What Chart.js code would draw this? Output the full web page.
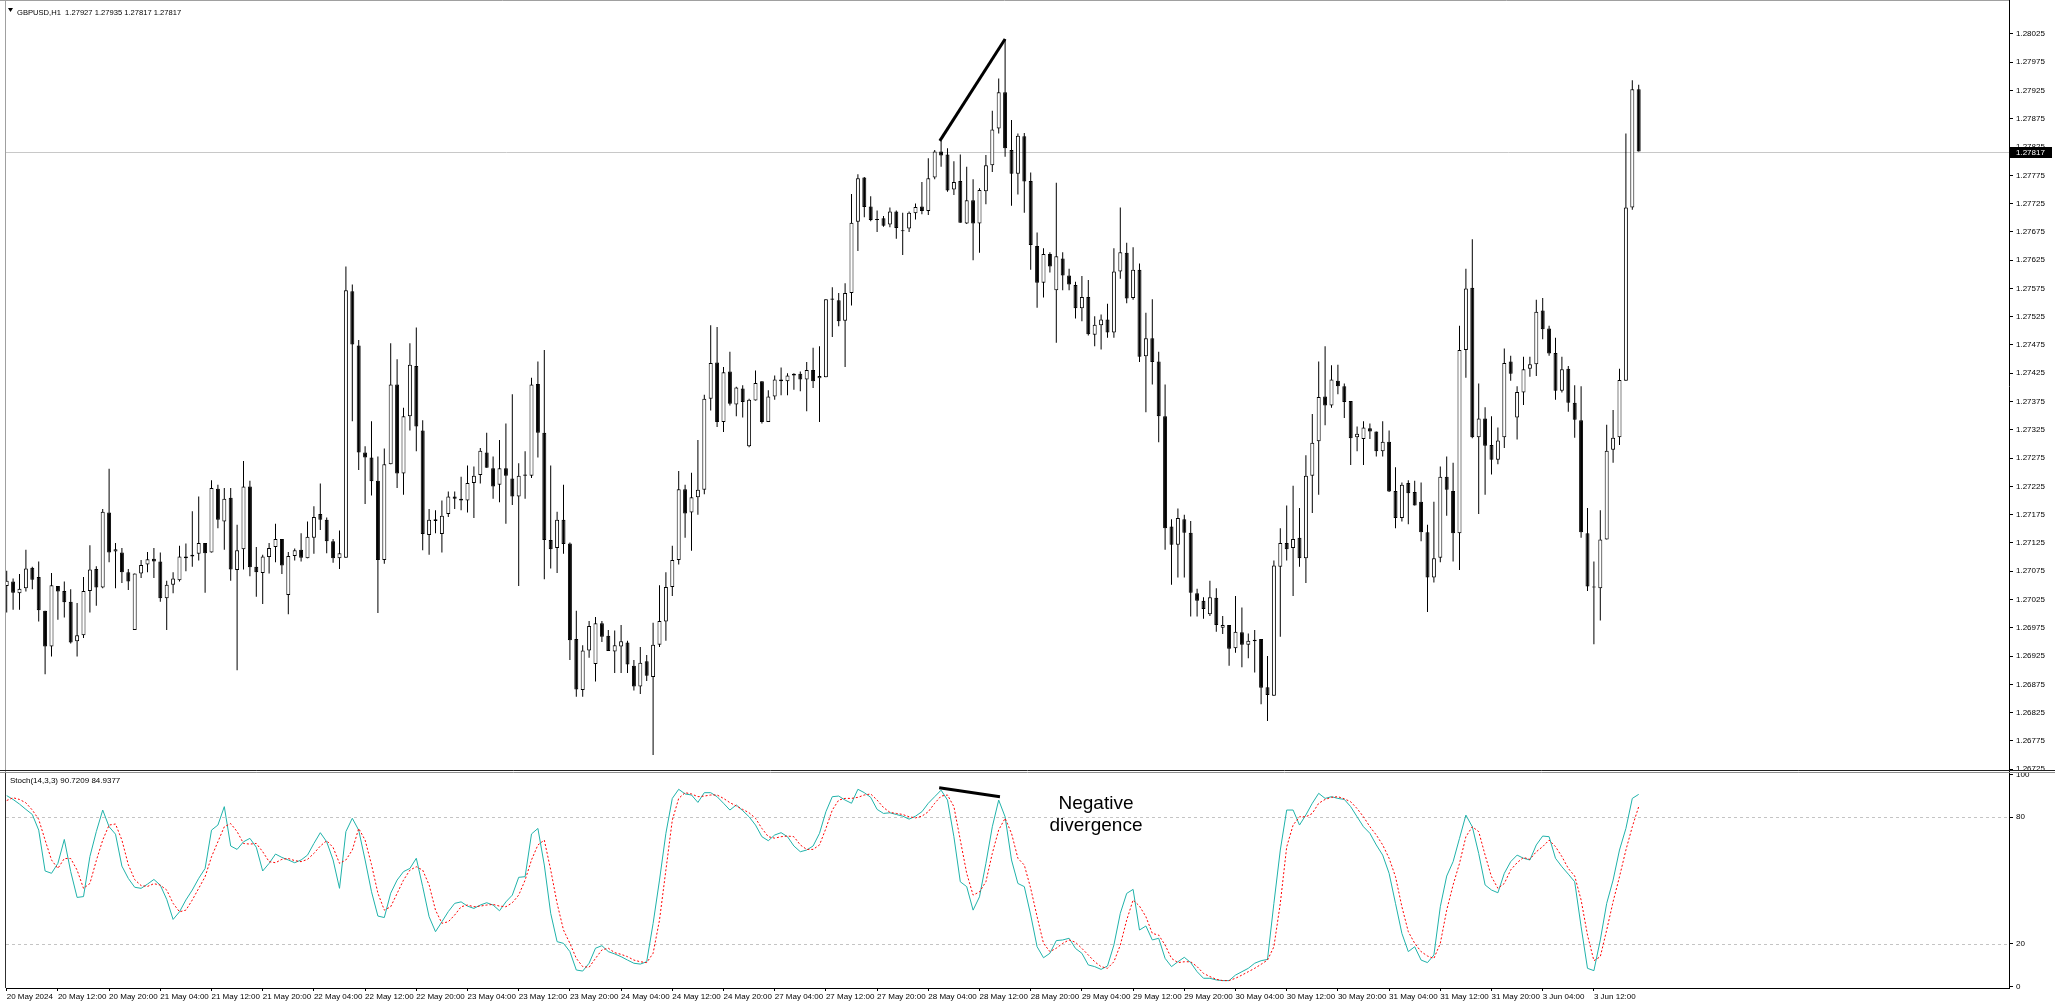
<!DOCTYPE html>
<html>
<head>
<meta charset="utf-8">
<script src="https://cdn.jsdelivr.net/npm/chart.js@4.4.1/dist/chart.umd.min.js"></script>
<style>
  html, body { margin: 0; padding: 0; background: #fff; }
  #wrap { position: relative; width: 2055px; height: 1002px; overflow: hidden; background: #fff; }
  #main { position: absolute; left: 0; top: 0; }
  #stoch { position: absolute; left: 0; top: 762px; }
</style>
</head>
<body>
<div id="wrap">
  <canvas id="main" width="2055" height="772"></canvas>
  <canvas id="stoch" width="2055" height="240"></canvas>
</div>
<script>
// GBPUSD H1, 20 May 04:00 .. 3 Jun 19:00 (256 bars)
const symbol = "GBPUSD,H1";
const stochTitle = "Stoch(14,3,3) 90.7209 84.9377";

const opens = [
  1.27049,1.27057,1.27036,1.27045,1.27081,1.27065,1.27005,1.26942,1.27049,1.27040,
  1.27021,1.26951,1.26962,1.27040,1.27079,1.27046,1.27179,1.27110,1.27108,1.27073,
  1.26971,1.27071,1.27087,1.27097,1.27092,1.27027,1.27051,1.27059,1.27101,1.27101,
  1.27106,1.27125,1.27108,1.27221,1.27163,1.27205,1.27077,1.27114,1.27225,1.27083,
  1.27072,1.27100,1.27118,1.27132,1.27033,1.27102,1.27113,1.27098,1.27134,1.27176,
  1.27166,1.27128,1.27098,1.27099,1.27570,1.27474,1.27285,1.27276,1.27235,1.27095,
  1.27264,1.27405,1.27248,1.27349,1.27438,1.27324,1.27139,1.27167,1.27141,1.27176,
  1.27207,1.27203,1.27200,1.27231,1.27245,1.27285,1.27257,1.27228,1.27257,1.27239,
  1.27207,1.27246,1.27244,1.27406,1.27320,1.27130,1.27116,1.27166,1.27124,1.26955,
  1.26865,1.26935,1.26911,1.26983,1.26961,1.26933,1.26942,1.26949,1.26908,1.26871,
  1.26916,1.26888,1.26945,1.26986,1.27047,1.27095,1.27220,1.27179,1.27206,1.27219,
  1.27380,1.27444,1.27339,1.27428,1.27370,1.27398,1.27296,1.27377,1.27411,1.27339,
  1.27384,1.27414,1.27411,1.27421,1.27424,1.27414,1.27431,1.27416,1.27418,1.27555,
  1.27554,1.27518,1.27567,1.27693,1.27771,1.27720,1.27697,1.27699,1.27688,1.27711,
  1.27678,1.27681,1.27708,1.27720,1.27712,1.27771,1.27817,1.27812,1.27750,1.27765,
  1.27690,1.27731,1.27690,1.27747,1.27793,1.27858,1.27922,1.27820,1.27778,1.27844,
  1.27765,1.27650,1.27585,1.27636,1.27572,1.27628,1.27598,1.27581,1.27540,1.27560,
  1.27493,1.27510,1.27520,1.27497,1.27605,1.27638,1.27558,1.27608,1.27455,1.27487,
  1.27446,1.27349,1.27154,1.27122,1.27167,1.27143,1.27036,1.27023,1.26999,1.27028,
  1.26975,1.26980,1.26939,1.26967,1.26945,1.26954,1.26955,1.26870,1.26855,1.27083,
  1.27125,1.27116,1.27134,1.27098,1.27244,1.27305,1.27384,1.27368,1.27412,1.27402,
  1.27376,1.27312,1.27309,1.27328,1.27322,1.27287,1.27304,1.27217,1.27169,1.27231,
  1.27215,1.27198,1.27144,1.27064,1.27099,1.27242,1.27217,1.27142,1.27466,1.27576,
  1.27312,1.27345,1.27298,1.27272,1.27312,1.27446,1.27347,1.27391,1.27433,1.27441,
  1.27536,1.27504,1.27461,1.27394,1.27433,1.27373,1.27342,1.27142,1.27048,1.27045,
  1.27131,1.27290,1.27312,1.27412,1.27718,1.27927
];
const highs = [
  1.27076,1.27062,1.27070,1.27113,1.27083,1.27092,1.27005,1.27072,1.27049,1.27057,
  1.27043,1.27019,1.27065,1.27121,1.27084,1.27185,1.27256,1.27125,1.27116,1.27079,
  1.27071,1.27095,1.27109,1.27116,1.27108,1.27058,1.27073,1.27120,1.27124,1.27181,
  1.27207,1.27125,1.27236,1.27228,1.27222,1.27222,1.27157,1.27270,1.27235,1.27118,
  1.27104,1.27125,1.27159,1.27132,1.27109,1.27115,1.27142,1.27163,1.27190,1.27230,
  1.27170,1.27132,1.27147,1.27614,1.27582,1.27484,1.27296,1.27340,1.27278,1.27292,
  1.27478,1.27450,1.27364,1.27478,1.27506,1.27342,1.27185,1.27183,1.27200,1.27216,
  1.27216,1.27242,1.27262,1.27260,1.27293,1.27320,1.27278,1.27307,1.27336,1.27388,
  1.27266,1.27287,1.27417,1.27446,1.27466,1.27262,1.27180,1.27228,1.27126,1.27005,
  1.26944,1.26987,1.26994,1.26987,1.26971,1.26970,1.26980,1.26952,1.26918,1.26941,
  1.26927,1.26984,1.27050,1.27073,1.27120,1.27252,1.27228,1.27249,1.27307,1.27387,
  1.27510,1.27507,1.27436,1.27463,1.27401,1.27404,1.27380,1.27430,1.27411,1.27395,
  1.27421,1.27435,1.27425,1.27425,1.27428,1.27445,1.27470,1.27473,1.27556,1.27577,
  1.27567,1.27584,1.27742,1.27777,1.27772,1.27738,1.27713,1.27703,1.27718,1.27713,
  1.27709,1.27711,1.27725,1.27763,1.27805,1.27820,1.27836,1.27823,1.27800,1.27812,
  1.27790,1.27768,1.27752,1.27811,1.27889,1.27946,1.28016,1.27873,1.27849,1.27850,
  1.27780,1.27674,1.27646,1.27639,1.27762,1.27639,1.27610,1.27587,1.27597,1.27590,
  1.27526,1.27529,1.27548,1.27646,1.27718,1.27656,1.27648,1.27619,1.27532,1.27556,
  1.27463,1.27405,1.27167,1.27186,1.27175,1.27164,1.27044,1.27029,1.27058,1.27045,
  1.26996,1.26980,1.27031,1.27011,1.26965,1.26971,1.26955,1.26925,1.27094,1.27151,
  1.27191,1.27226,1.27187,1.27280,1.27353,1.27446,1.27473,1.27439,1.27440,1.27407,
  1.27376,1.27331,1.27340,1.27336,1.27322,1.27340,1.27324,1.27259,1.27232,1.27236,
  1.27235,1.27232,1.27157,1.27198,1.27260,1.27278,1.27267,1.27509,1.27610,1.27662,
  1.27407,1.27365,1.27349,1.27329,1.27469,1.27456,1.27402,1.27454,1.27454,1.27555,
  1.27558,1.27509,1.27488,1.27454,1.27438,1.27404,1.27402,1.27187,1.27092,1.27183,
  1.27334,1.27360,1.27433,1.27849,1.27943,1.27935
];
const lows = [
  1.27002,1.27007,1.27007,1.27039,1.27043,1.26986,1.26893,1.26924,1.26989,1.26993,
  1.26947,1.26924,1.26957,1.27002,1.27014,1.27045,1.27091,1.27045,1.27054,1.27042,
  1.26971,1.27063,1.27073,1.27063,1.27021,1.26971,1.27036,1.27057,1.27075,1.27083,
  1.27094,1.27037,1.27108,1.27151,1.27113,1.27058,1.26900,1.27078,1.27066,1.27030,
  1.27017,1.27071,1.27091,1.27070,1.26999,1.27094,1.27092,1.27098,1.27106,1.27148,
  1.27107,1.27090,1.27079,1.27099,1.27340,1.27254,1.27194,1.27209,1.27001,1.27088,
  1.27264,1.27222,1.27210,1.27324,1.27287,1.27112,1.27104,1.27142,1.27108,1.27171,
  1.27185,1.27183,1.27179,1.27169,1.27230,1.27258,1.27203,1.27197,1.27159,1.27192,
  1.27049,1.27203,1.27240,1.27276,1.27061,1.27080,1.27072,1.27106,1.26918,1.26853,
  1.26853,1.26922,1.26880,1.26950,1.26934,1.26895,1.26895,1.26895,1.26864,1.26858,
  1.26881,1.26750,1.26941,1.26952,1.27031,1.27087,1.27134,1.27111,1.27175,1.27211,
  1.27359,1.27330,1.27321,1.27368,1.27349,1.27347,1.27294,1.27377,1.27336,1.27339,
  1.27378,1.27386,1.27386,1.27396,1.27393,1.27358,1.27399,1.27339,1.27418,1.27489,
  1.27508,1.27436,1.27545,1.27641,1.27701,1.27694,1.27675,1.27684,1.27683,1.27663,
  1.27634,1.27675,1.27697,1.27706,1.27705,1.27768,1.27790,1.27746,1.27740,1.27691,
  1.27689,1.27625,1.27638,1.27724,1.27781,1.27849,1.27808,1.27721,1.27741,1.27709,
  1.27608,1.27541,1.27559,1.27603,1.27479,1.27572,1.27572,1.27522,1.27517,1.27492,
  1.27473,1.27467,1.27488,1.27488,1.27592,1.27549,1.27555,1.27445,1.27356,1.27405,
  1.27303,1.27113,1.27051,1.27064,1.27064,1.26995,1.26995,1.26991,1.26996,1.26968,
  1.26964,1.26908,1.26931,1.26905,1.26921,1.26896,1.26840,1.26810,1.26855,1.26959,
  1.27094,1.27031,1.27083,1.27054,1.27178,1.27210,1.27333,1.27364,1.27388,1.27346,
  1.27263,1.27287,1.27263,1.27309,1.27278,1.27278,1.27215,1.27151,1.27163,1.27158,
  1.27191,1.27128,1.27003,1.27055,1.27091,1.27173,1.27092,1.27077,1.27417,1.27310,
  1.27176,1.27210,1.27246,1.27264,1.27293,1.27412,1.27308,1.27369,1.27419,1.27420,
  1.27485,1.27456,1.27378,1.27391,1.27357,1.27311,1.27134,1.27040,1.26946,1.26988,
  1.27131,1.27267,1.27298,1.27412,1.27714,1.27817
];
const closes = [
  1.27058,1.27037,1.27044,1.27080,1.27060,1.27006,1.26942,1.27050,1.27039,1.27020,
  1.26949,1.26962,1.27040,1.27078,1.27046,1.27180,1.27108,1.27114,1.27073,1.27057,
  1.27071,1.27086,1.27096,1.27092,1.27027,1.27051,1.27062,1.27101,1.27098,1.27104,
  1.27125,1.27107,1.27222,1.27166,1.27203,1.27078,1.27112,1.27225,1.27082,1.27073,
  1.27101,1.27116,1.27132,1.27085,1.27102,1.27112,1.27099,1.27136,1.27171,1.27166,
  1.27128,1.27098,1.27107,1.27572,1.27476,1.27285,1.27276,1.27234,1.27095,1.27264,
  1.27405,1.27248,1.27349,1.27440,1.27331,1.27141,1.27166,1.27164,1.27173,1.27207,
  1.27203,1.27200,1.27231,1.27244,1.27288,1.27258,1.27225,1.27257,1.27244,1.27207,
  1.27244,1.27244,1.27405,1.27320,1.27130,1.27114,1.27166,1.27123,1.26953,1.26866,
  1.26935,1.26978,1.26983,1.26959,1.26934,1.26944,1.26951,1.26910,1.26871,1.26913,
  1.26890,1.26945,1.26987,1.27047,1.27095,1.27220,1.27177,1.27206,1.27219,1.27380,
  1.27443,1.27339,1.27427,1.27371,1.27400,1.27374,1.27378,1.27408,1.27339,1.27384,
  1.27414,1.27411,1.27421,1.27424,1.27414,1.27431,1.27411,1.27420,1.27556,1.27557,
  1.27517,1.27567,1.27691,1.27770,1.27719,1.27696,1.27696,1.27686,1.27711,1.27682,
  1.27676,1.27709,1.27719,1.27712,1.27770,1.27817,1.27810,1.27748,1.27763,1.27691,
  1.27731,1.27690,1.27749,1.27793,1.27856,1.27922,1.27823,1.27778,1.27845,1.27764,
  1.27652,1.27585,1.27636,1.27614,1.27632,1.27598,1.27582,1.27540,1.27560,1.27494,
  1.27511,1.27520,1.27497,1.27605,1.27639,1.27557,1.27608,1.27454,1.27487,1.27445,
  1.27349,1.27151,1.27122,1.27169,1.27143,1.27037,1.27023,1.27008,1.27029,1.26980,
  1.26980,1.26938,1.26968,1.26945,1.26952,1.26951,1.26869,1.26856,1.27085,1.27125,
  1.27114,1.27132,1.27098,1.27244,1.27302,1.27383,1.27368,1.27414,1.27402,1.27374,
  1.27310,1.27318,1.27329,1.27322,1.27287,1.27304,1.27216,1.27169,1.27228,1.27213,
  1.27191,1.27144,1.27064,1.27098,1.27242,1.27219,1.27142,1.27466,1.27575,1.27312,
  1.27345,1.27297,1.27272,1.27306,1.27443,1.27424,1.27392,1.27432,1.27441,1.27534,
  1.27503,1.27460,1.27394,1.27432,1.27373,1.27343,1.27144,1.27048,1.27046,1.27131,
  1.27288,1.27311,1.27413,1.27718,1.27927,1.27817
];

const stochK = [
  90.1,88.3,86.1,83.6,81.2,73.8,54.5,53.4,58.1,69.4,
  54.2,42.0,42.4,61.3,73.1,83.3,75.4,71.9,56.8,51.0,
  46.8,46.3,48.3,50.5,47.8,41.1,31.6,35.2,40.8,45.5,
  51.0,55.7,73.8,76.2,84.9,66.3,64.7,68.3,69.9,65.7,
  54.5,58.1,62.5,60.9,59.7,58.4,59.7,62.0,67.5,72.6,
  68.3,59.7,46.3,73.1,79.4,73.8,59.7,44.7,33.2,32.5,
  44.0,50.2,54.2,55.7,60.5,47.1,32.9,25.8,30.5,35.3,
  39.2,39.9,37.9,36.8,38.4,39.5,38.4,35.7,39.9,43.1,
  51.5,51.8,72.0,74.6,57.3,34.5,21.1,20.3,16.4,7.7,
  7.2,10.9,18.0,19.2,16.4,15.3,14.0,12.4,10.9,10.5,
  11.6,29.7,50.2,72.3,88.8,93.1,90.9,90.4,86.9,91.5,
  91.5,89.6,86.5,83.3,85.7,83.0,80.1,76.2,70.7,68.8,
  71.5,72.6,70.7,66.3,63.6,64.4,66.3,72.3,82.5,89.6,
  89.9,88.0,86.5,93.1,91.5,89.3,83.6,81.7,82.0,81.2,
  80.4,79.0,80.4,82.5,86.5,89.6,92.7,88.0,70.7,49.4,
  47.1,36.0,42.3,58.1,75.4,88.0,80.1,59.7,48.6,47.1,
  33.7,18.7,13.5,15.6,21.6,21.9,22.7,17.9,15.6,10.1,
  9.3,8.0,9.6,19.5,34.5,43.9,45.8,26.6,28.5,21.9,
  22.7,13.2,9.3,11.6,13.7,11.2,6.9,3.8,3.8,3.0,
  2.7,2.7,5.3,6.9,8.5,10.9,12.1,12.7,39.2,64.4,
  83.3,83.3,76.2,81.0,86.5,91.2,88.8,89.6,88.8,88.3,
  84.9,80.1,75.4,72.3,66.8,62.0,53.4,39.2,25.0,16.4,
  18.7,12.4,11.2,14.8,37.6,52.1,58.9,69.9,80.9,75.4,
  62.8,47.9,45.5,44.2,53.4,58.9,62.0,60.5,59.7,66.8,
  71.0,70.7,60.5,56.5,53.0,49.4,28.2,8.5,7.4,21.9,
  39.2,50.2,64.4,74.6,88.8,90.7
];
const stochD = [
  87.8,89.1,88.3,86.7,83.3,78.9,69.1,59.7,55.7,60.4,
  60.4,54.9,46.3,48.6,59.4,69.1,76.2,76.7,69.1,57.5,
  50.4,47.6,47.2,48.5,47.8,45.5,39.2,35.2,36.0,40.8,
  46.3,51.8,61.2,68.3,75.4,76.9,73.1,67.5,67.2,67.5,
  63.6,58.9,58.4,60.0,60.4,59.4,58.9,60.0,62.8,66.3,
  68.8,65.6,58.1,59.7,64.4,74.6,69.1,57.5,44.0,36.0,
  37.6,43.9,50.2,54.9,56.5,54.9,47.9,36.0,29.8,30.5,
  33.7,37.6,38.4,37.6,37.9,38.4,38.7,37.9,37.6,39.5,
  43.1,50.2,59.7,66.8,69.1,55.0,39.2,26.6,20.3,13.2,
  9.3,9.0,13.2,17.2,18.0,15.9,15.1,14.0,12.4,11.6,
  11.2,15.6,31.3,55.0,78.5,88.8,91.5,90.9,89.6,89.9,
  90.4,90.4,88.8,86.8,85.2,83.6,82.0,79.4,74.6,70.7,
  70.0,70.7,71.0,70.7,66.8,64.7,64.7,66.8,74.6,83.3,
  88.0,88.8,88.8,89.3,90.4,90.9,88.0,84.5,82.2,81.7,
  81.2,80.1,79.6,80.4,82.5,86.5,89.9,90.4,84.9,69.1,
  53.4,43.1,44.6,49.4,62.8,73.9,79.4,72.3,60.5,57.3,
  46.3,32.9,20.3,16.4,18.0,20.3,21.9,20.8,17.9,14.8,
  11.6,9.3,8.5,11.6,19.5,31.3,40.8,37.9,32.9,25.0,
  24.2,19.5,13.2,11.2,11.6,11.6,9.3,6.1,4.6,3.3,
  2.7,2.7,3.8,5.3,6.9,8.5,10.4,12.4,18.7,39.2,
  65.9,76.2,80.1,80.1,81.7,86.5,88.3,89.3,89.6,88.6,
  87.2,84.0,80.1,75.4,71.5,66.8,60.5,51.8,37.6,25.8,
  20.3,16.4,14.3,13.2,20.3,36.0,47.9,58.1,70.7,75.4,
  73.1,62.0,51.8,46.3,48.6,55.0,58.4,60.9,60.0,63.6,
  66.0,69.1,66.0,61.3,55.7,52.1,40.8,24.2,12.1,14.0,
  26.6,40.0,51.8,64.4,75.4,84.9
];

// one label every 8 bars, starting at bar 0
const timeLabels = [
  "20 May 2024","20 May 12:00","20 May 20:00","21 May 04:00","21 May 12:00","21 May 20:00",
  "22 May 04:00","22 May 12:00","22 May 20:00","23 May 04:00","23 May 12:00","23 May 20:00",
  "24 May 04:00","24 May 12:00","24 May 20:00","27 May 04:00","27 May 12:00","27 May 20:00",
  "28 May 04:00","28 May 12:00","28 May 20:00","29 May 04:00","29 May 12:00","29 May 20:00",
  "30 May 04:00","30 May 12:00","30 May 20:00","31 May 04:00","31 May 12:00","31 May 20:00",
  "3 Jun 04:00","3 Jun 12:00"
];
const priceTicks = [
  1.28025,1.27975,1.27925,1.27875,1.27825,1.27775,1.27725,1.27675,1.27625,1.27575,
  1.27525,1.27475,1.27425,1.27375,1.27325,1.27275,1.27225,1.27175,1.27125,1.27075,
  1.27025,1.26975,1.26925,1.26875,1.26825,1.26775,1.26725
];
const stochTicks = [0, 20, 80, 100];
const stochLevels = [20, 80];

// hand-drawn divergence marks (bar index / value)
const divPriceX = [145.8, 156.0];
const divPriceY = [1.27836, 1.28016];
const divStochX = [145.7, 155.2];
const divStochY = [93.8, 89.6];
const noteLines = ["Negative", "divergence"];
const noteX = 170.2;
const noteY = [83.6, 73.6];

const FONT = "'Liberation Sans', Arial, sans-serif";
const X_MIN = -0.11, X_MAX = 312.86;

const last = closes.length - 1;

const mainDecor = {
  id: "mainDecor",
  beforeDatasetsDraw(chart) {
    const { ctx, chartArea: a, scales: { y } } = chart;
    const py = Math.round(y.getPixelForValue(closes[last])) + 0.5;
    ctx.save();
    ctx.strokeStyle = "#c8c8c8";
    ctx.lineWidth = 1;
    ctx.beginPath();
    ctx.moveTo(a.left, py);
    ctx.lineTo(a.right, py);
    ctx.stroke();
    ctx.restore();
  },
  afterDatasetsDraw(chart) {
    const { ctx, scales: { x, y } } = chart;
    ctx.save();
    ctx.strokeStyle = "#000";
    ctx.lineWidth = 3;
    ctx.beginPath();
    ctx.moveTo(x.getPixelForValue(divPriceX[0]), y.getPixelForValue(divPriceY[0]));
    ctx.lineTo(x.getPixelForValue(divPriceX[1]), y.getPixelForValue(divPriceY[1]));
    ctx.stroke();
    ctx.restore();
  },
  afterDraw(chart) {
    const { ctx, chartArea: a, scales: { y } } = chart;
    ctx.save();
    // frame
    ctx.strokeStyle = "#a0a0a0";
    ctx.lineWidth = 1;
    ctx.beginPath();
    ctx.moveTo(5.5, 0); ctx.lineTo(5.5, a.bottom);
    ctx.moveTo(0, 0.5); ctx.lineTo(a.right, 0.5);
    ctx.stroke();
    ctx.strokeStyle = "#202020";
    ctx.beginPath();
    ctx.moveTo(0, 770.5); ctx.lineTo(2055, 770.5);
    ctx.stroke();
    // header
    ctx.fillStyle = "#000";
    ctx.beginPath();
    ctx.moveTo(8, 8); ctx.lineTo(13, 8); ctx.lineTo(10.5, 12); ctx.closePath();
    ctx.fill();
    ctx.font = "7.6px " + FONT;
    ctx.textBaseline = "alphabetic";
    ctx.textAlign = "left";
    const head = symbol + "  " + [opens[last], highs[last], lows[last], closes[last]].map(v => v.toFixed(5)).join(" ");
    ctx.fillText(head, 17, 15);
    // current price tag
    const py = Math.round(y.getPixelForValue(closes[last]));
    ctx.fillStyle = "#000";
    ctx.fillRect(a.right + 1, py - 5, 42, 11);
    ctx.fillStyle = "#fff";
    ctx.font = "8px " + FONT;
    ctx.textBaseline = "middle";
    ctx.fillText(closes[last].toFixed(5), a.right + 7, py + 0.5);
    ctx.restore();
  }
};

const stochDecor = {
  id: "stochDecor",
  beforeDatasetsDraw(chart) {
    const { ctx, chartArea: a, scales: { y } } = chart;
    ctx.save();
    ctx.strokeStyle = "#c4c4c4";
    ctx.lineWidth = 1;
    ctx.setLineDash([3, 3]);
    stochLevels.forEach(v => {
      const py = Math.round(y.getPixelForValue(v)) + 0.5;
      ctx.beginPath();
      ctx.moveTo(a.left, py);
      ctx.lineTo(a.right, py);
      ctx.stroke();
    });
    ctx.restore();
  },
  afterDatasetsDraw(chart) {
    const { ctx, scales: { x, y } } = chart;
    ctx.save();
    ctx.strokeStyle = "#000";
    ctx.lineWidth = 3;
    ctx.beginPath();
    ctx.moveTo(x.getPixelForValue(divStochX[0]), y.getPixelForValue(divStochY[0]));
    ctx.lineTo(x.getPixelForValue(divStochX[1]), y.getPixelForValue(divStochY[1]));
    ctx.stroke();
    ctx.fillStyle = "#000";
    ctx.font = "19px " + FONT;
    ctx.textAlign = "center";
    ctx.textBaseline = "alphabetic";
    noteLines.forEach((t, k) => ctx.fillText(t, x.getPixelForValue(noteX), y.getPixelForValue(noteY[k])));
    ctx.restore();
  },
  afterDraw(chart) {
    const { ctx, chartArea: a } = chart;
    ctx.save();
    ctx.strokeStyle = "#909090";
    ctx.lineWidth = 1;
    ctx.beginPath();
    ctx.moveTo(0, 10.5); ctx.lineTo(2055, 10.5);
    ctx.stroke();
    ctx.strokeStyle = "#303030";
    ctx.beginPath();
    ctx.moveTo(5.5, a.top); ctx.lineTo(5.5, a.bottom);
    ctx.stroke();
    ctx.fillStyle = "#000";
    ctx.font = "8px " + FONT;
    ctx.textAlign = "left";
    ctx.textBaseline = "alphabetic";
    ctx.fillText(stochTitle, 10, 21);
    ctx.restore();
  }
};

new Chart(document.getElementById("main"), {
  type: "bar",
  data: {
    datasets: [
      {
        label: "body",
        data: opens.map((o, i) => ({ x: i, y: [o, closes[i]] })),
        backgroundColor: opens.map((o, i) => (closes[i] >= o ? "#ffffff" : "#000000")),
        borderColor: "#000",
        borderWidth: 1,
        borderSkipped: false,
        barThickness: 4,
        maxBarThickness: 4,
        minBarLength: 1,
        inflateAmount: 0,
        grouped: false,
        order: 0
      },
      {
        label: "wick",
        data: highs.map((h, i) => ({ x: i, y: [lows[i], h] })),
        backgroundColor: "#000",
        borderWidth: 0,
        barThickness: 1,
        maxBarThickness: 1,
        inflateAmount: 0,
        grouped: false,
        order: 1
      }
    ]
  },
  options: {
    responsive: false,
    animation: false,
    events: [],
    layout: { padding: { left: 6, top: 0, right: 0, bottom: 0 } },
    plugins: { legend: { display: false }, tooltip: { enabled: false } },
    scales: {
      x: { type: "linear", min: X_MIN, max: X_MAX, offset: false, grid: { offset: false }, display: false },
      y: {
        position: "right",
        min: 1.26720,
        max: 1.28085,
        afterBuildTicks: s => { s.ticks = priceTicks.map(v => ({ value: v })); },
        afterFit: s => { s.width = 46; s.paddingTop = 0; s.paddingBottom = 0; },
        grid: { drawOnChartArea: false, tickLength: 4, color: "#000" },
        border: { color: "#000" },
        ticks: {
          autoSkip: false,
          padding: 3,
          color: "#000",
          font: { family: FONT, size: 8 },
          callback: v => Number(v).toFixed(5)
        }
      }
    }
  },
  plugins: [mainDecor]
});

new Chart(document.getElementById("stoch"), {
  type: "line",
  data: {
    datasets: [
      {
        label: "%D",
        data: stochD.map((v, i) => ({ x: i, y: v })),
        borderColor: "#ff0000",
        borderWidth: 1,
        borderDash: [2, 2],
        pointRadius: 0,
        tension: 0,
        order: 0
      },
      {
        label: "%K",
        data: stochK.map((v, i) => ({ x: i, y: v })),
        borderColor: "#20b2aa",
        borderWidth: 1,
        pointRadius: 0,
        tension: 0,
        order: 1
      }
    ]
  },
  options: {
    responsive: false,
    animation: false,
    events: [],
    layout: { padding: { left: 6, top: 11, right: 0, bottom: 0 } },
    plugins: { legend: { display: false }, tooltip: { enabled: false } },
    scales: {
      x: {
        type: "linear",
        min: X_MIN,
        max: X_MAX,
        offset: false,
        afterBuildTicks: s => { s.ticks = timeLabels.map((t, k) => ({ value: k * 8 })); },
        afterFit: s => { s.height = 14; s.paddingLeft = 0; s.paddingRight = 0; },
        grid: { drawOnChartArea: false, tickLength: 3, color: "#000" },
        border: { color: "#000" },
        ticks: {
          autoSkip: false,
          maxRotation: 0,
          minRotation: 0,
          align: "start",
          padding: 1,
          color: "#000",
          font: { family: FONT, size: 8 },
          callback: (v, idx) => timeLabels[idx]
        }
      },
      y: {
        position: "right",
        min: -0.8,
        max: 100.8,
        afterBuildTicks: s => { s.ticks = stochTicks.map(v => ({ value: v })); },
        afterFit: s => { s.width = 46; s.paddingTop = 0; s.paddingBottom = 0; },
        grid: { drawOnChartArea: false, tickLength: 4, color: "#000" },
        border: { color: "#000" },
        ticks: { autoSkip: false, padding: 3, color: "#000", font: { family: FONT, size: 8 } }
      }
    }
  },
  plugins: [stochDecor]
});
</script>
</body>
</html>
